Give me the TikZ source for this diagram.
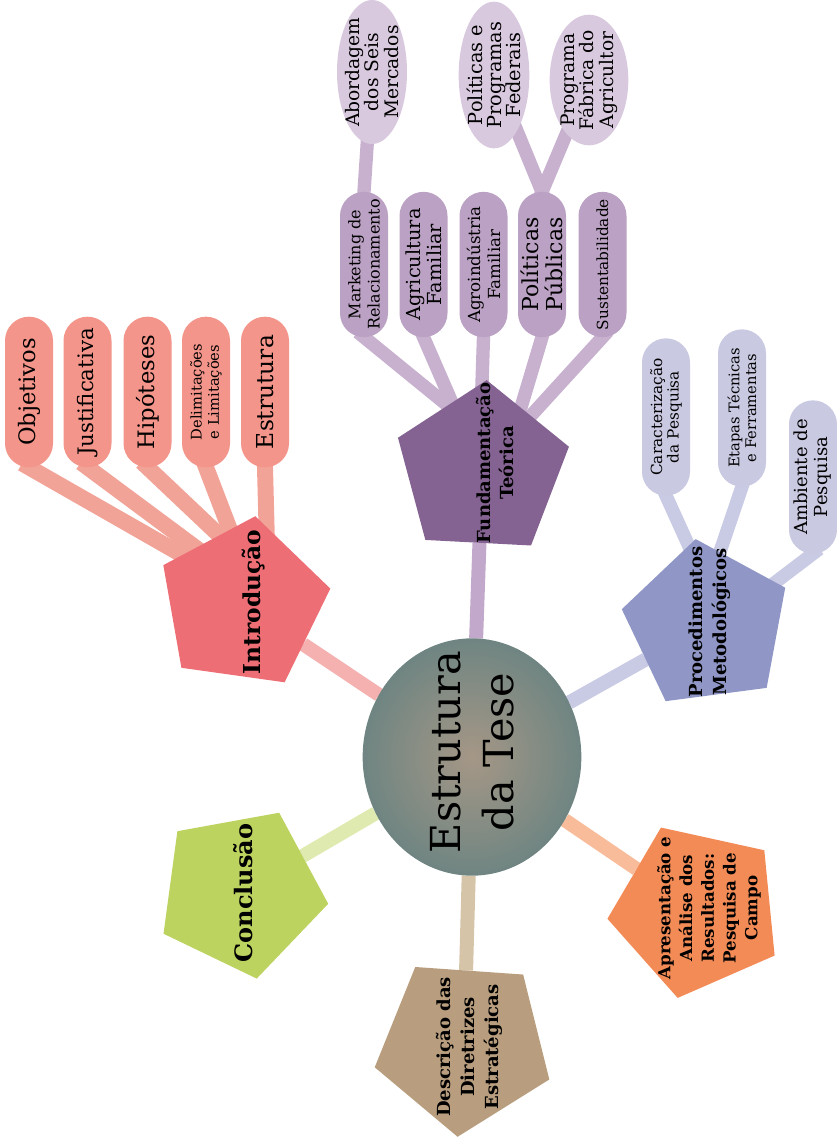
\documentclass[tikz,border=0pt]{standalone}
\usepackage{fontspec}
\setmainfont{DejaVu Serif}
\usetikzlibrary{shapes.geometric,backgrounds}

\newcommand{\fsz}[2]{\fontsize{#1}{#2}\selectfont}

\definecolor{teseIn}{HTML}{A59786}
\definecolor{teseOut}{HTML}{6F8582}
\definecolor{introC}{HTML}{EE6E76}
\definecolor{introL}{HTML}{F5B0B0}
\definecolor{introP}{HTML}{F3958A}
\definecolor{introS}{HTML}{F2A398}
\definecolor{fundC}{HTML}{846392}
\definecolor{fundL}{HTML}{C2A9CB}
\definecolor{fundP}{HTML}{BBA1C3}
\definecolor{fundS}{HTML}{C7B1CE}
\definecolor{fundG}{HTML}{D9C9DF}
\definecolor{procC}{HTML}{9097C6}
\definecolor{procL}{HTML}{C9CAE4}
\definecolor{procP}{HTML}{C9C9E2}
\definecolor{apresC}{HTML}{F38B57}
\definecolor{apresL}{HTML}{F8BC9A}
\definecolor{descC}{HTML}{B89E7E}
\definecolor{descL}{HTML}{D6C4A9}
\definecolor{conclC}{HTML}{BDD35F}
\definecolor{conclL}{HTML}{DEEAB0}

\begin{document}
\begin{tikzpicture}[x=0.75pt,y=0.75pt,
    every node/.style={inner sep=0pt, outer sep=0pt, text=black},
    pent/.style={regular polygon, regular polygon sides=5, minimum size=#1},
    pill/.style={rectangle, rounded corners=18pt, rotate=90, minimum height=36pt, align=center},
    bubble/.style={ellipse, fill=fundG},
    title/.style={rotate=90, align=center},
    mainline/.style={line width=10.5pt},
    subline/.style={line width=10pt, shorten <=-6pt, shorten >=-12pt}]
    \useasboundingbox (0,0) rectangle (837,-1140);

    \node[ellipse, minimum width=164pt, minimum height=178pt, inner color=teseIn, outer color=teseOut] (tese) at (472,-757) {};
    \node[title, font=\fsz{31}{40}] (tese-t) at (472,-752) {Estrutura\\da Tese};

    \node[pent=133pt, shape border rotate=-8, fill=introC] (intro) at (243,-604) {};
    \node[title, font=\bfseries\fsz{17.5}{21}] (intro-t) at (254,-602) {Introdução};
    \node[pent=135pt, shape border rotate=-3, fill=fundC] (fund) at (482,-470) {};
    \node[title, font=\bfseries\fsz{13.5}{17}] (fund-t) at (495,-463) {Fundamentação\\Teórica};
    \node[pent=130pt, shape border rotate=7.5, fill=procC] (proc) at (707,-625) {};
    \node[title, font=\bfseries\fsz{13.5}{18}] (proc-t) at (710,-622) {Procedimentos\\Metodológicos};
    \node[pent=135pt, shape border rotate=23.6, fill=apresC] (apres) at (697,-910) {};
    \node[title, font=\bfseries\fsz{12.5}{16.3}] (apres-t) at (709,-908) {Apresentação e\\Análise dos\\Resultados:\\Pesquisa de\\Campo};
    \node[pent=138pt, shape border rotate=-40, fill=descC] (desc) at (464,-1045) {};
    \node[title, font=\bfseries\fsz{13.5}{18}] (desc-t) at (469,-1047) {Descrição das\\Diretrizes\\Estratégicas};
    \node[pent=132pt, shape border rotate=-25.7, fill=conclC] (concl) at (241,-892) {};
    \node[title, font=\bfseries\fsz{18}{21}] (concl-t) at (243,-893) {Conclusão};

    \node[pill, minimum width=113pt, fill=introP, font=\fsz{17}{20}] (obj) at (29,-392) {Objetivos};
    \node[pill, minimum width=113pt, fill=introP, font=\fsz{16}{19}] (just) at (87.5,-392) {Justificativa};
    \node[pill, minimum width=113pt, fill=introP, font=\fsz{17}{20}] (hip) at (147.5,-392) {Hipóteses};
    \node[pill, minimum width=113pt, fill=introP, font=\fsz{11}{13}] (delim) at (206,-392) {Delimitações\\e Limitações};
    \node[pill, minimum width=113pt, fill=introP, font=\fsz{17.5}{20}] (estr) at (265,-392) {Estrutura};

    \node[pill, minimum width=109pt, fill=fundP, font=\fsz{12}{14.5}] (mkt) at (364,-264.5) {Marketing de\\Relacionamento};
    \node[pill, minimum width=109pt, fill=fundP, font=\fsz{14.5}{15.5}] (agric) at (423.5,-264.5) {Agricultura\\Familiar};
    \node[pill, minimum width=109pt, fill=fundP, font=\fsz{12.5}{15}] (agroind) at (483.5,-264.5) {Agroindústria\\Familiar};
    \node[pill, minimum width=109pt, fill=fundP, font=\fsz{16.5}{18}] (polpub) at (542,-264.5) {Políticas\\Públicas};
    \node[pill, minimum width=109pt, fill=fundP, font=\fsz{11.5}{14}] (sust) at (602.5,-264.5) {Sustentabilidade};

    \node[bubble, minimum width=52.5pt, minimum height=108pt] (abord) at (372,-72) {};
    \node[title, font=\fsz{14}{14.5}] (abord-t) at (372,-72) {Abordagem\\dos Seis\\Mercados};
    \node[bubble, minimum width=53pt, minimum height=110pt] (polfed) at (494,-75) {};
    \node[title, font=\fsz{14.5}{14.5}] (polfed-t) at (494,-75) {Políticas e\\Programas\\Federais};
    \node[bubble, minimum width=59pt, minimum height=98pt] (fabrica) at (589,-80) {};
    \node[title, font=\fsz{14}{14.5}] (fabrica-t) at (589,-80) {Programa\\Fábrica do\\Agricultor};

    \node[pill, minimum width=118pt, fill=procP, font=\fsz{11.5}{12.5}] (carac) at (666,-417) {Caracterização\\da Pesquisa};
    \node[pill, minimum width=118pt, fill=procP, font=\fsz{11}{12.5}] (etapas) at (742,-408) {Etapas Técnicas\\e Ferramentas};
    \node[pill, minimum width=115pt, fill=procP, font=\fsz{13.5}{15}] (ambiente) at (813,-477) {Ambiente de\\Pesquisa};

    \begin{scope}[on background layer]
    \draw[mainline, introL] (tese) -- (intro);
    \draw[mainline, fundL] (tese) -- (fund);
    \draw[mainline, procL] (tese) -- (proc);
    \draw[mainline, apresL] (tese) -- (apres);
    \draw[mainline, descL] (tese) -- (desc);
    \draw[mainline, conclL] (tese) -- (concl);

    \draw[subline, introS, line width=12pt] (obj.west) -- (intro.141);
    \draw[subline, introS, line width=12pt] (just.west) -- (intro.130);
    \draw[subline, introS, line width=12pt] (hip.west) -- (intro.109);
    \draw[subline, introS, line width=12pt] (delim.west) -- (intro.100);
    \draw[subline, introS, line width=12pt] (estr.west) -- (intro.73);

    \draw[subline, fundS] (mkt.west) -- (fund.118);
    \draw[subline, fundS] (agric.west) -- (fund.114);
    \draw[subline, fundS] (agroind.west) -- (fund.90);
    \draw[subline, fundS] (polpub.west) -- (fund.58);
    \draw[subline, fundS] (sust.west) -- (fund.48);

    \draw[subline, fundS] (abord) -- (mkt.east);
    \draw[subline, fundS] (polfed) -- (polpub.east);
    \draw[subline, fundS] (fabrica) -- (polpub.east);

    \draw[subline, procL] (carac.west) -- (proc.103);
    \draw[subline, procL] (etapas.west) -- (proc.80);
    \draw[subline, procL] (ambiente.west) -- (proc.32);
    \end{scope}
\end{tikzpicture}
\end{document}
